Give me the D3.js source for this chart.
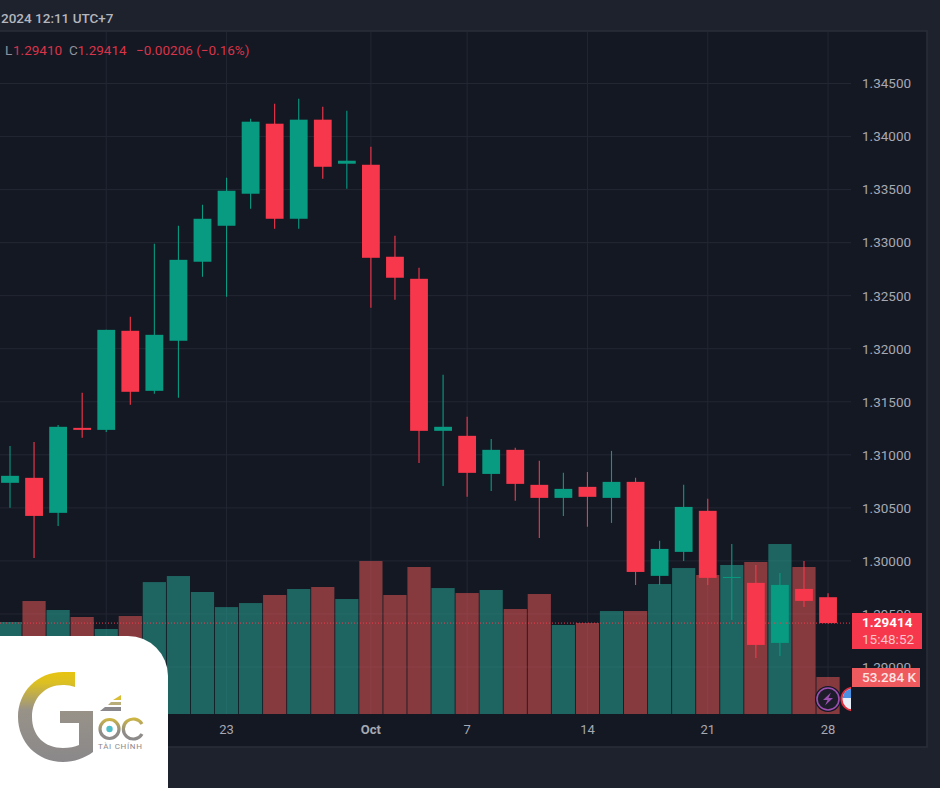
<!DOCTYPE html>
<html>
<head>
<meta charset="utf-8">
<script src="https://cdn.jsdelivr.net/npm/d3@7"></script>
<style>
    html, body { margin: 0; padding: 0; background: #1e222d; overflow: hidden; }
    svg { display: block; font-family: Roboto, sans-serif; }
</style>
</head>
<body>
<script>
const WIDTH = 940;
const HEIGHT = 788;
const PLOT = { left: 0, right: 851, top: 32, bottom: 714 };

const RED = "#f7374b";
const GREEN = "#089b82";
const VOLUME_RED = "#f85c59";
const VOLUME_GREEN = "#28b09d";

const dates = ["2024-09-10", "2024-09-11", "2024-09-12", "2024-09-13", "2024-09-16", "2024-09-17", "2024-09-18",
    "2024-09-19", "2024-09-20", "2024-09-23", "2024-09-24", "2024-09-25", "2024-09-26", "2024-09-27", "2024-09-30",
    "2024-10-01", "2024-10-02", "2024-10-03", "2024-10-04", "2024-10-07", "2024-10-08", "2024-10-09", "2024-10-10",
    "2024-10-11", "2024-10-14", "2024-10-15", "2024-10-16", "2024-10-17", "2024-10-18", "2024-10-21", "2024-10-22",
    "2024-10-23", "2024-10-24", "2024-10-25", "2024-10-28"];
const opens = [1.30736, 1.30783, 1.30453, 1.31254, 1.31235, 1.32169, 1.31603, 1.32075, 1.3282, 1.33159, 1.33461,
    1.34121, 1.33225, 1.34159, 1.33744, 1.33734, 1.32867, 1.32659, 1.31226, 1.31179, 1.3082, 1.31047, 1.30717,
    1.30594, 1.30698, 1.30594, 1.30745, 1.29859, 1.30085, 1.30472, 1.2984, 1.29793, 1.29227, 1.29736, 1.29658];
const highs = [1.31084, 1.31122, 1.31282, 1.31584, 1.32178, 1.32301, 1.32989, 1.33159, 1.33357, 1.33612, 1.34168,
    1.3431, 1.34357, 1.34281, 1.34244, 1.33904, 1.33065, 1.32763, 1.31754, 1.31358, 1.3115, 1.31066, 1.30943,
    1.3083, 1.30839, 1.31037, 1.30783, 1.30189, 1.30717, 1.30585, 1.3016, 1.29962, 1.29887, 1.3, 1.29695];
const lows = [1.305, 1.30028, 1.3033, 1.3116, 1.31216, 1.31471, 1.31575, 1.31537, 1.32678, 1.3249, 1.33319,
    1.33131, 1.33131, 1.33602, 1.33508, 1.32386, 1.32461, 1.30924, 1.30707, 1.30604, 1.3066, 1.30566, 1.30217,
    1.30424, 1.30321, 1.30358, 1.29774, 1.29774, 1.3, 1.29774, 1.29444, 1.29085, 1.29104, 1.29566, 1.2941];
const closes = [1.30802, 1.30424, 1.31264, 1.31235, 1.32178, 1.31594, 1.32131, 1.32838, 1.33225, 1.33489, 1.3414,
    1.33225, 1.34159, 1.33715, 1.33772, 1.32857, 1.32669, 1.31226, 1.31264, 1.3083, 1.31047, 1.30726, 1.30594,
    1.30679, 1.30604, 1.30745, 1.29896, 1.30113, 1.30509, 1.2984, 1.29849, 1.29208, 1.29774, 1.29623, 1.29414];
const volumes = [132.5, 162.7, 149.8, 139.7, 122.4, 141.1, 190, 198.7, 175.7, 154, 159.8, 171.4, 180, 182.9, 165.6,
    220.3, 171.4, 211.7, 181.4, 174.2, 178.6, 151.2, 172.8, 128.2, 131, 148.3, 148.3, 187.2, 210.2, 200.2, 214.6,
    218.9, 244.8, 211.7, 53.284];

const priceTicks = [1.29, 1.295, 1.3, 1.305, 1.31, 1.315, 1.32, 1.325, 1.33, 1.335, 1.34, 1.345];
const dateTicks = ["2024-09-16", "2024-09-23", "2024-10-01", "2024-10-07", "2024-10-14", "2024-10-21", "2024-10-28"];
const dateTickLabels = ["16", "23", "Oct", "7", "14", "21", "28"];

const lastPrice = 1.29414;
const lastVolume = 53.284;

var svg = d3.select("body").append("svg")
    .attr("width", WIDTH)
    .attr("height", HEIGHT)
    .attr("viewBox", [0, 0, WIDTH, HEIGHT]);

var defs = svg.append("defs");
defs.append("clipPath").attr("id", "plot-clip").append("rect")
    .attr("x", PLOT.left).attr("y", PLOT.top)
    .attr("width", PLOT.right - PLOT.left).attr("height", PLOT.bottom - PLOT.top);

var logoGradient = defs.append("linearGradient").attr("id", "logo-fill")
    .attr("gradientUnits", "userSpaceOnUse")
    .attr("x1", 0).attr("y1", 672).attr("x2", 0).attr("y2", 762);
logoGradient.append("stop").attr("offset", "0").attr("stop-color", "#e8c411");
logoGradient.append("stop").attr("offset", "0.12").attr("stop-color", "#dcc022");
logoGradient.append("stop").attr("offset", "0.42").attr("stop-color", "#989288");
logoGradient.append("stop").attr("offset", "1").attr("stop-color", "#8a888a");

var smallGradient = defs.append("linearGradient").attr("id", "logo-small")
    .attr("gradientUnits", "userSpaceOnUse")
    .attr("x1", 0).attr("y1", 716).attr("x2", 0).attr("y2", 742);
smallGradient.append("stop").attr("offset", "0").attr("stop-color", "#d9bd35");
smallGradient.append("stop").attr("offset", "0.6").attr("stop-color", "#908d88");
smallGradient.append("stop").attr("offset", "1").attr("stop-color", "#8a888a");

// Chart panel
svg.append("rect")
    .attr("x", -2).attr("y", PLOT.top - 1)
    .attr("width", 929).attr("height", 716)
    .style("fill", "#141823")
    .style("stroke", "#2a2e39")
    .style("stroke-width", 1.5);

// Scales
var x = d3.scaleBand().domain(dates).range([-2.03, 840.07]);
var y = d3.scaleLinear().domain([1.29, 1.345]).range([667, 83.5]);
var yVolume = d3.scaleLinear().domain([0, lastVolume]).range([PLOT.bottom, 677]);
var xCenter = d => x(d) + x.bandwidth() / 2;

var plot = svg.append("g").attr("clip-path", "url(#plot-clip)");

// Grid
plot.selectAll(".grid-y").data(priceTicks).join("line")
    .attr("class", "grid-y")
    .attr("x1", PLOT.left).attr("x2", PLOT.right)
    .attr("y1", d => y(d)).attr("y2", d => y(d))
    .style("stroke", "#232733").style("stroke-width", 1);
plot.selectAll(".grid-x").data(dateTicks).join("line")
    .attr("class", "grid-x")
    .attr("x1", d => xCenter(d)).attr("x2", d => xCenter(d))
    .attr("y1", PLOT.top).attr("y2", PLOT.bottom)
    .style("stroke", "#232733").style("stroke-width", 1);

// Volume
plot.selectAll(".volume").data(dates).join("rect")
    .attr("class", "volume")
    .attr("x", d => xCenter(d) - 11.6)
    .attr("width", 23.2)
    .attr("y", (d, i) => yVolume(volumes[i]))
    .attr("height", (d, i) => PLOT.bottom - yVolume(volumes[i]))
    .style("fill", (d, i) => closes[i] >= opens[i] ? VOLUME_GREEN : VOLUME_RED)
    .style("fill-opacity", 0.5);

// Wicks
plot.selectAll(".wick").data(dates).join("line")
    .attr("class", "wick")
    .attr("x1", d => xCenter(d)).attr("x2", d => xCenter(d))
    .attr("y1", (d, i) => y(highs[i]))
    .attr("y2", (d, i) => y(lows[i]))
    .style("stroke", (d, i) => closes[i] >= opens[i] ? GREEN : RED)
    .style("stroke-width", 1.1);

// Bodies
plot.selectAll(".body").data(dates).join("rect")
    .attr("class", "body")
    .attr("x", d => xCenter(d) - 8.9)
    .attr("width", 17.8)
    .attr("y", (d, i) => y(Math.max(opens[i], closes[i])))
    .attr("height", (d, i) => Math.max(1, Math.abs(y(opens[i]) - y(closes[i]))))
    .style("fill", (d, i) => closes[i] >= opens[i] ? GREEN : RED);

// Last price line
plot.append("line")
    .attr("x1", PLOT.left).attr("x2", PLOT.right)
    .attr("y1", y(lastPrice)).attr("y2", y(lastPrice))
    .style("stroke", RED).style("stroke-width", 1).style("stroke-dasharray", "1 2");

// Axes
var yAxis = svg.append("g")
    .attr("transform", `translate(${PLOT.right},0)`)
    .call(d3.axisRight(y).tickValues(priceTicks).tickSize(0).tickPadding(11).tickFormat(d3.format(".5f")));
var xAxis = svg.append("g")
    .attr("transform", `translate(0,${PLOT.bottom})`)
    .call(d3.axisBottom(x).tickValues(dateTicks).tickSize(0).tickPadding(11)
        .tickFormat(d => dateTickLabels[dateTicks.indexOf(d)]));
yAxis.select(".domain").remove();
xAxis.select(".domain").remove();
yAxis.selectAll("text").style("font-size", "13.5px").style("fill", "#a6a9b3").style("font-family", "Roboto");
xAxis.selectAll("text").style("font-size", "13px").style("fill", "#a6a9b3").style("font-family", "Roboto");
xAxis.selectAll(".tick").filter(d => d === "2024-10-01").select("text").style("font-weight", "bold");

// Header
svg.append("text")
    .text("2024 12:11 UTC+7")
    .attr("x", 1).attr("y", 23)
    .style("font-size", "13.5px").style("font-weight", "500").style("fill", "#b4b6bd");

var legend = svg.append("text").attr("y", 55).style("font-size", "13.5px");
[["L", "#8f929c", 5], ["1.29410", "#d8344a", 13], ["C", "#8f929c", 69], ["1.29414", "#d8344a", 77.5], ["\u22120.00206 (\u22120.16%)", "#d8344a", 136]]
    .forEach(function(part) {
        legend.append("tspan").attr("x", part[2]).style("fill", part[1]).text(part[0]);
    });

// Last price label
svg.append("rect")
    .attr("x", PLOT.right + 1).attr("y", 613).attr("width", 70).attr("height", 36)
    .style("fill", RED);
svg.append("text").text(d3.format(".5f")(lastPrice))
    .attr("x", 862).attr("y", 627)
    .style("font-size", "13.5px").style("font-weight", "bold").style("fill", "#ffffff");
svg.append("text").text("15:48:52")
    .attr("x", 862).attr("y", 644)
    .style("font-size", "13.5px").style("fill", "#ffc4ca");

// Volume label
svg.append("rect")
    .attr("x", PLOT.right + 1).attr("y", 668).attr("width", 68).attr("height", 19)
    .style("fill", "#ef5a5f");
svg.append("text").text(d3.format(".3f")(lastVolume) + " K")
    .attr("x", 862).attr("y", 682)
    .style("font-size", "13.5px").style("font-weight", "500").style("fill", "#ffe4e4");

// Event badges
var bolt = plot.append("g").attr("transform", "translate(828,699)");
bolt.append("circle").attr("r", 13).style("fill", "#141823");
bolt.append("circle").attr("r", 11).style("fill", "#1c1c2b").style("stroke", "#9c4fb0").style("stroke-width", 1.6);
bolt.append("path").attr("d", "M3 -6.5 L-5 1 L-0.5 1 L-3 6.5 L5 -1 L0.5 -1 Z").style("fill", "#9c4fb0");
var flag = plot.append("g").attr("transform", "translate(853,699)");
flag.append("circle").attr("r", 13).style("fill", "#141823");
flag.append("circle").attr("r", 11.5).style("fill", "#e8eef8").style("stroke", "#e0303f").style("stroke-width", 2);
flag.append("path").attr("d", "M-10.5 -1 A10.5 10.5 0 0 1 0 -10.5 L3 -10.5 L3 -1 Z").style("fill", "#4a90e2");

// Logo
svg.append("path")
    .attr("d", "M0 636 H128 A40 40 0 0 1 168 676 V788 H0 Z")
    .style("fill", "#ffffff");
svg.append("path")
    .attr("d", "M75 672 L75 687 A31 31 0 0 0 63 685 C45 685 32 698 32 717 C32 736 45 748 63 748 C69 748 75 747 79 745 L79 723 L60 723 L60 711 L93 711 L93 752 C85 758 74 762 63 762 C37 762 18 742 18 717 C18 692 37 672 63 672 Z")
    .style("fill", "url(#logo-fill)");
svg.append("path").attr("d", "M121 695 L121 700 L113 700 Z").style("fill", "#d9bd35");
svg.append("path").attr("d", "M121 702 L121 705 L108 705 L111 702 Z").style("fill", "#b9ad7a");
svg.append("path").attr("d", "M121 707 L121 711 L100 711 L105 707 Z").style("fill", "#8a888a");
svg.append("circle").attr("cx", 109.5).attr("cy", 729).attr("r", 9.5)
    .style("fill", "none").style("stroke", "url(#logo-small)").style("stroke-width", 3.2);
svg.append("circle").attr("cx", 109.5).attr("cy", 729).attr("r", 3.2).style("fill", "#4dbfc8");
svg.append("path").attr("d", "M142 724 A10 10 0 1 0 142 734")
    .style("fill", "none").style("stroke", "url(#logo-small)").style("stroke-width", 3.2);
svg.append("text").text("TÀI CHÍNH")
    .attr("x", 98).attr("y", 749)
    .style("font-size", "8px").style("letter-spacing", "0.7px").style("fill", "#8a888a");
</script>
</body>
</html>
